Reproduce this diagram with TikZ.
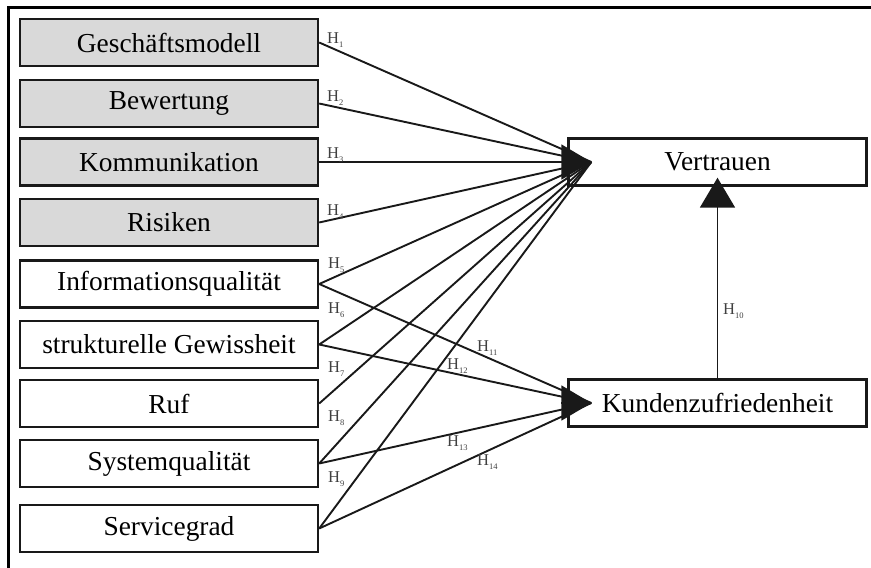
\documentclass[tikz,border=0pt]{standalone}
\usepackage{fontspec}
\setmainfont{Liberation Serif}
\usetikzlibrary{arrows.meta}

\tikzset{
  box/.style={draw=black!90, line width=2.4pt, minimum width=298pt, minimum height=47pt,
    inner sep=0pt, font=\fontsize{27.4}{30}\selectfont},
  grbox/.style={box, fill=black!15},
  link/.style={line width=1.9pt, draw=black!90},
  bigtip/.style={link, -{Triangle[length=30pt,width=35pt]}},
  hlab/.style={anchor=base west, inner sep=0pt, text=black!75, font=\fontsize{16.5}{18}\selectfont},
}
\newcommand{\hsub}[1]{H\raisebox{-3.5pt}{\fontsize{8.5}{9}\selectfont #1}}

\begin{document}
\begin{tikzpicture}[x=1pt,y=-1pt]
        \useasboundingbox (0,0) rectangle (871,568);
        \draw[line width=3pt] (8.7,568) -- (8.7,7) -- (871,7);
        % Einflussfaktoren
        \foreach \n/\y/\txt in {1/42.5/Geschäftsmodell, 2/103.5/Bewertung,
                                 3/162/Kommunikation, 4/222.5/Risiken}
            \node[grbox] (f\n) at (169,\y) {\txt};
        \foreach \n/\y/\txt in {5/284/Informationsqualität, 6/344.5/strukturelle Gewissheit,
                                 7/403.5/Ruf, 8/463.5/Systemqualität, 9/528.5/Servicegrad}
            \node[box] (f\n) at (169,\y) {\txt};
        \node[box] (vert) at (717.5,162) {Vertrauen};
        \node[box] (kund) at (717.5,403) {Kundenzufriedenheit};
        \coordinate (vt) at ([xshift=24pt]vert.west);
        \coordinate (kt) at ([xshift=24pt]kund.west);
        % Pfade
        \foreach \n in {1,...,9}
            \draw[link] (f\n.east) -- (vt);
        \foreach \n in {5,6,8,9}
            \draw[link] (f\n.east) -- (kt);
        \draw[bigtip] ([xshift=-30pt]vt) -- (vt);
        \draw[bigtip] ([xshift=-30pt]kt) -- (kt);
        \draw[bigtip] (kund.north) -- ([yshift=9pt]vert.south);
        % Hypothesen
        \foreach \n/\x/\y in {1/327/43.5, 2/327/101.5, 3/327/158.5, 4/327/215.5,
                              5/328/268.5, 6/328/313.5, 7/328/372.5, 8/328/421.5,
                              9/328/482.5, 10/723/314.5, 11/477/351.5, 12/447/369.5,
                              13/447/446.5, 14/477/465.5}
            \node[hlab] (h\n) at (\x,\y) {\hsub{\n}};
    \end{tikzpicture}
\end{document}
